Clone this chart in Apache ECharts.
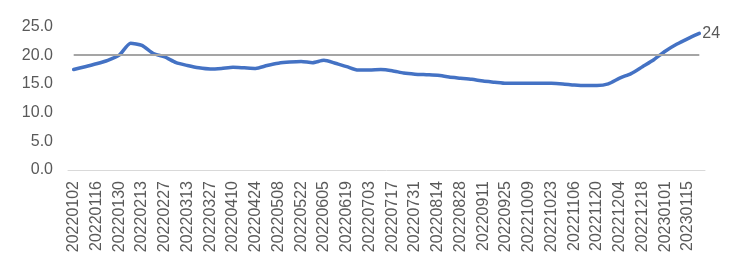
<!DOCTYPE html>
<html>
<head>
<meta charset="utf-8">
<script src="https://cdn.jsdelivr.net/npm/echarts@6/dist/echarts.min.js"></script>
<style>html,body{margin:0;padding:0;background:#fff;}#c{width:740px;height:265px;}</style>
</head>
<body>
<div id="c"></div>
<script>
const categories = ["20220102","20220109","20220116","20220123","20220130","20220206","20220213","20220220","20220227","20220306","20220313","20220320","20220327","20220403","20220410","20220417","20220424","20220501","20220508","20220515","20220522","20220529","20220605","20220612","20220619","20220626","20220703","20220710","20220717","20220724","20220731","20220807","20220814","20220821","20220828","20220904","20220911","20220918","20220925","20221002","20221009","20221016","20221023","20221030","20221106","20221113","20221120","20221127","20221204","20221211","20221218","20221225","20230101","20230108","20230115","20230122"];
const values = [17.5,18.0,18.5,19.1,20.0,22.1,21.7,20.3,19.7,18.7,18.2,17.8,17.6,17.7,17.9,17.8,17.7,18.2,18.6,18.8,18.9,18.7,19.1,18.6,18.0,17.4,17.4,17.5,17.3,16.9,16.7,16.6,16.5,16.2,16.0,15.8,15.5,15.3,15.1,15.1,15.1,15.1,15.1,15.0,14.8,14.7,14.7,15.0,16.0,16.8,18.0,19.2,20.7,21.9,22.9,23.8];
const referenceLevel = 20;
const yTicks = [0, 5, 10, 15, 20, 25];

const chart = echarts.init(document.getElementById('c'), null, {renderer: 'canvas'});
const font = 'Liberation Sans';
chart.setOption({
  animation: false,
  grid: {left: 68, right: 35, top: 26.5, bottom: 95},
  xAxis: {
    type: 'category',
    data: categories,
    boundaryGap: true,
    axisLine: {lineStyle: {color: '#d9d9d9', width: 1}},
    axisTick: {show: false},
    axisLabel: {interval: 1, rotate: 90, color: '#595959', fontSize: 16, fontFamily: font, margin: 11}
  },
  yAxis: {
    type: 'value',
    min: yTicks[0],
    max: yTicks[yTicks.length - 1],
    interval: 5,
    splitLine: {show: false},
    axisLine: {show: false},
    axisTick: {show: false},
    axisLabel: {color: '#595959', fontSize: 16, fontFamily: font, margin: 15, formatter: v => v.toFixed(1)}
  },
  series: [{
    type: 'line',
    data: values,
    symbol: 'none',
    smooth: 0.2,
    lineStyle: {color: '#4472C4', width: 3.5, cap: 'round'},
    endLabel: {show: true, formatter: p => Math.round(p.value), color: '#595959', fontSize: 16, fontFamily: font, distance: 3},
    markLine: {
      silent: true,
      symbol: 'none',
      label: {show: false},
      lineStyle: {color: '#a5a5a5', width: 2, type: 'solid'},
      data: [[{xAxis: categories[0], yAxis: referenceLevel}, {xAxis: categories[categories.length - 1], yAxis: referenceLevel}]]
    },
    z: 3
  }]
});
</script>
</body>
</html>
